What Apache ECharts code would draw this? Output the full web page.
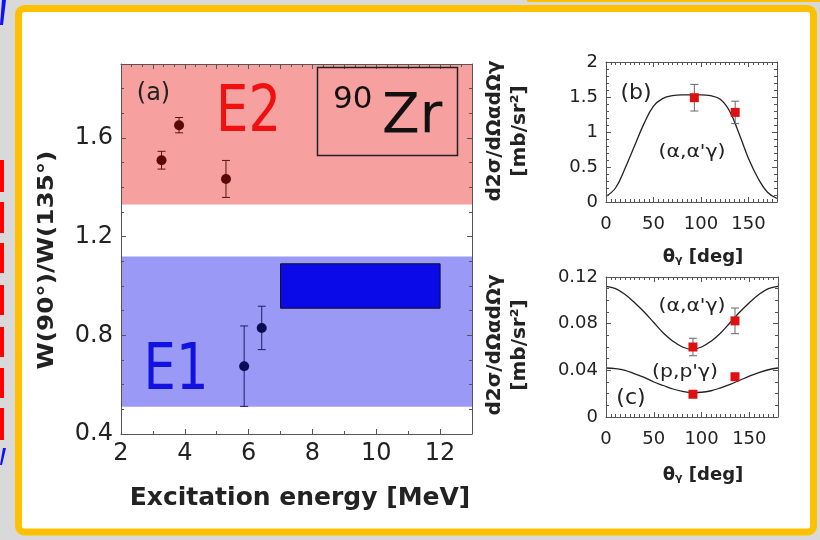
<!DOCTYPE html>
<html><head><meta charset="utf-8">
<script src="https://cdn.jsdelivr.net/npm/echarts@6/dist/echarts.min.js"></script>
<style>html,body{margin:0;padding:0;background:#d9d9d9}#c{width:820px;height:540px}</style>
</head><body><div id="c"></div>
<script>
// ---------- Panel (a) ----------
const xRangeA = [2, 13];
const yRangeA = [0.4, 1.9];
const xTicksA = [2, 4, 6, 8, 10, 12];
const yTicksA = [0.4, 0.8, 1.2, 1.6];
const e2Energy = [3.27, 3.82, 5.29];
const e2Ratio = [1.51, 1.652, 1.434];
const e2Err = [0.036, 0.031, 0.075];
const e1Energy = [5.86, 6.41];
const e1Ratio = [0.675, 0.83];
const e1Err = [0.163, 0.088];
const e2Band = [1.33, 1.9];
const e1Band = [0.51, 1.12];
const gdrBoxX = [7, 12];
const gdrBoxY = [0.91, 1.09];

// ---------- Panel (b) ----------
const xRangeAng = [0, 180];
const xTicksAng = [0, 50, 100, 150];
const yTicksB = [0, 0.5, 1, 1.5, 2];
const angleGrid = [0, 10, 20, 30, 40, 50, 60, 70, 80, 90, 100, 110, 120, 130, 140, 150, 160, 170, 180];
const curveB = [0.08, 0.2, 0.48, 0.8, 1.12, 1.37, 1.48, 1.52, 1.53, 1.53, 1.53, 1.52, 1.47, 1.3, 0.98, 0.62, 0.34, 0.14, 0.05];
const pointAngleB = [93, 136];
const pointValB = [1.49, 1.28];
const pointErrB = [0.19, 0.16];

// ---------- Panel (c) ----------
const yTicksC = [0, 0.04, 0.08, 0.12];
const curveAlphaC = [0.112, 0.110, 0.105, 0.098, 0.090, 0.081, 0.072, 0.065, 0.060, 0.058, 0.060, 0.065, 0.072, 0.081, 0.090, 0.098, 0.105, 0.110, 0.112];
const curveProtonC = [0.042, 0.0415, 0.040, 0.037, 0.034, 0.030, 0.027, 0.024, 0.022, 0.021, 0.0212, 0.0225, 0.025, 0.028, 0.0315, 0.035, 0.038, 0.0405, 0.042];
const pointAngleC = [91, 135];
const alphaValC = [0.06, 0.0824];
const alphaErrC = [0.0075, 0.011];
const protonValC = [0.0195, 0.0345];
const protonErrC = [0.0018, 0.0018];

const FONT = 'DejaVu Sans';
const zip3 = (a, b, c) => a.map((v, i) => [v, b[i], c[i]]);
const zip2 = (a, b) => a.map((v, i) => [v, b[i]]);

function errRender(color, cap, width) {
  return function (params, api) {
    const x = api.value(0), y = api.value(1), e = api.value(2);
    const t = api.coord([x, y + e]), b = api.coord([x, y - e]);
    const st = { stroke: color, lineWidth: width || 1 };
    return { type: 'group', children: [
      { type: 'line', shape: { x1: t[0], y1: t[1], x2: b[0], y2: b[1] }, style: st },
      { type: 'line', shape: { x1: t[0] - cap, y1: t[1], x2: t[0] + cap, y2: t[1] }, style: st },
      { type: 'line', shape: { x1: b[0] - cap, y1: b[1], x2: b[0] + cap, y2: b[1] }, style: st }
    ]};
  };
}

const axLine = { onZero: false, lineStyle: { color: '#555', width: 1 } };
function mkAxis(grid, range, interval, minorN, labels, pos, fs, margin, tickLen) {
  const show = !!labels;
  return {
    type: 'value', gridIndex: grid, position: pos, min: range[0], max: range[1], interval: interval, z: 10,
    axisLine: axLine, splitLine: { show: false },
    axisTick: { inside: true, length: tickLen, lineStyle: { color: '#555' } },
    minorTick: { show: true, splitNumber: minorN, length: tickLen * 0.6, lineStyle: { color: '#555' } },
    axisLabel: show ? { show: true, customValues: labels, fontFamily: FONT, fontSize: fs, color: '#222', margin: margin,
      formatter: v => String(+(+v).toFixed(2)) } : { show: false }
  };
}

function txt(x, y, text, size, opts) {
  opts = opts || {};
  return {
    type: 'text', x: x, y: y, rotation: opts.rot || 0, scaleX: opts.sx || 1, scaleY: opts.sy || 1, z: 50,
    style: { text: text, fontFamily: FONT, fontSize: size, fontWeight: opts.bold ? 'bold' : 'normal',
      fill: opts.color || '#222', textAlign: opts.align || 'center', textVerticalAlign: 'middle',
      lineHeight: opts.lh, rich: opts.rich }
  };
}

const subRich = {
  t: { fontFamily: FONT, fontSize: 18, fontWeight: 'bold', fill: '#222', color: '#222' },
  s: { fontFamily: FONT, fontSize: 11, fontWeight: 'bold', fill: '#222', color: '#222', verticalAlign: 'bottom', padding: [6, 0, 0, 0] }
};

const graphics = [
  // slide frame
  { type: 'rect', z: -10, shape: { x: 18.5, y: 8.5, width: 795, height: 523.5, r: 6 }, style: { fill: '#ffffff', stroke: '#ffc000', lineWidth: 7 } },
  { type: 'rect', z: -10, shape: { x: 527, y: 0, width: 293, height: 2 }, style: { fill: '#ffc000' } },
  // left slide fragments
  { type: 'polygon', z: -10, shape: { points: [[2, 0], [6, 0], [3, 25], [0, 25]] }, style: { fill: '#1010ff' } },
  { type: 'rect', z: -10, shape: { x: 0, y: 160, width: 4, height: 32 }, style: { fill: '#ff0000' } },
  { type: 'rect', z: -10, shape: { x: 0, y: 202, width: 4, height: 31 }, style: { fill: '#ff0000' } },
  { type: 'rect', z: -10, shape: { x: 0, y: 243, width: 4, height: 30 }, style: { fill: '#ff0000' } },
  { type: 'rect', z: -10, shape: { x: 0, y: 285, width: 4, height: 30 }, style: { fill: '#ff0000' } },
  { type: 'rect', z: -10, shape: { x: 0, y: 327, width: 4, height: 30 }, style: { fill: '#ff0000' } },
  { type: 'rect', z: -10, shape: { x: 0, y: 368, width: 4, height: 30 }, style: { fill: '#ff0000' } },
  { type: 'rect', z: -10, shape: { x: 0, y: 408, width: 4, height: 32 }, style: { fill: '#ff0000' } },
  { type: 'polygon', z: -10, shape: { points: [[3, 448], [6, 448], [2, 465], [0, 465]] }, style: { fill: '#1010ff' } },
  // panel (a) annotations
  txt(153.5, 94, '(a)', 24),
  txt(248.5, 114, 'E2', 64, { color: '#f01010', sx: 0.8 }),
  txt(176, 372, 'E1', 64, { color: '#1212e0', sx: 0.8 }),
  { type: 'rect', z: 50, shape: { x: 317.5, y: 67.5, width: 140, height: 88 }, style: { fill: 'none', stroke: '#222', lineWidth: 1.5 } },
  txt(333, 100, '90', 31, { align: 'left', color: '#111' }),
  txt(382, 118, 'Zr', 55, { align: 'left', color: '#111' }),
  txt(47, 260, 'W(90°)/W(135°)', 22, { bold: true, rot: Math.PI / 2, sx: 1.12 }),
  txt(300, 498, 'Excitation energy [MeV]', 25, { bold: true }),
  // panel (b)
  txt(636, 93, '(b)', 22),
  txt(692, 153, '(α,α\'γ)', 17, { sx: 1.2 }),
  txt(507, 131, 'd2σ/dΩαdΩγ\n[mb/sr²]', 20, { bold: true, rot: Math.PI / 2, lh: 25 }),
  txt(703, 257, '{t|θ}{s|γ}{t| [deg]}', 18, { rich: subRich }),
  // panel (c)
  txt(692, 307, '(α,α\'γ)', 17, { sx: 1.2 }),
  txt(685, 373, '(p,p\'γ)', 17, { sx: 1.2 }),
  txt(631, 398, '(c)', 22),
  txt(507, 345, 'd2σ/dΩαdΩγ\n[mb/sr²]', 20, { bold: true, rot: Math.PI / 2, lh: 25 }),
  txt(703, 475, '{t|θ}{s|γ}{t| [deg]}', 18, { rich: subRich })
];

const option = {
  backgroundColor: '#d9d9d9',
  animation: false,
  grid: [
    { left: 121, top: 64, width: 351, height: 370 },
    { left: 606, top: 62, width: 171, height: 140 },
    { left: 606, top: 277, width: 172, height: 140 }
  ],
  xAxis: [
    mkAxis(0, xRangeA, 2, 2, xTicksA, 'bottom', 24, 8, 5),
    mkAxis(0, xRangeA, 1, 3, null, 'top', 24, 8, 5),
    mkAxis(1, xRangeAng, 50, 10, xTicksAng, 'bottom', 18, 13, 5),
    mkAxis(1, xRangeAng, 50, 10, null, 'top', 18, 13, 5),
    mkAxis(2, xRangeAng, 50, 10, xTicksAng, 'bottom', 18, 13, 5),
    mkAxis(2, xRangeAng, 50, 10, null, 'top', 18, 13, 5)
  ],
  yAxis: [
    mkAxis(0, yRangeA, 0.4, 4, yTicksA, 'left', 24, 8, 5),
    mkAxis(0, yRangeA, 0.4, 4, null, 'right', 24, 8, 5),
    mkAxis(1, [0, 2], 0.5, 5, yTicksB, 'left', 18, 8, 5),
    mkAxis(1, [0, 2], 0.5, 5, null, 'right', 18, 8, 5),
    mkAxis(2, [0, 0.12], 0.04, 4, yTicksC, 'left', 18, 8, 5),
    mkAxis(2, [0, 0.12], 0.04, 4, null, 'right', 18, 8, 5)
  ],
  graphic: graphics,
  series: [
    // bands
    { type: 'line', xAxisIndex: 0, yAxisIndex: 0, data: [], z: 1, silent: true,
      markArea: { silent: true, data: [
        [{ xAxis: xRangeA[0], yAxis: e2Band[0], itemStyle: { color: '#f6a0a0' } }, { xAxis: xRangeA[1], yAxis: e2Band[1] }],
        [{ xAxis: xRangeA[0], yAxis: e1Band[0], itemStyle: { color: '#9a9af6' } }, { xAxis: xRangeA[1], yAxis: e1Band[1] }]
      ] } },
    { type: 'line', xAxisIndex: 0, yAxisIndex: 0, data: [], z: 2, silent: true,
      markArea: { silent: true, data: [
        [{ xAxis: gdrBoxX[0], yAxis: gdrBoxY[0], itemStyle: { color: '#0a0ae8', borderColor: '#111', borderWidth: 1 } }, { xAxis: gdrBoxX[1], yAxis: gdrBoxY[1] }]
      ] } },
    // panel a error bars + points
    { type: 'custom', xAxisIndex: 0, yAxisIndex: 0, z: 4, data: zip3(e2Energy, e2Ratio, e2Err), renderItem: errRender('#5a1414', 4) },
    { type: 'custom', xAxisIndex: 0, yAxisIndex: 0, z: 4, data: zip3(e1Energy, e1Ratio, e1Err), renderItem: errRender('#1e1e66', 4) },
    { type: 'scatter', xAxisIndex: 0, yAxisIndex: 0, z: 5, symbolSize: 10, itemStyle: { color: '#5a0808', opacity: 1 }, data: zip2(e2Energy, e2Ratio) },
    { type: 'scatter', xAxisIndex: 0, yAxisIndex: 0, z: 5, symbolSize: 10, itemStyle: { color: '#0c0c55', opacity: 1 }, data: zip2(e1Energy, e1Ratio) },
    // panel b
    { type: 'line', xAxisIndex: 2, yAxisIndex: 2, z: 3, smooth: 0.4, showSymbol: false, lineStyle: { color: '#222', width: 1.3 }, data: zip2(angleGrid, curveB) },
    { type: 'custom', xAxisIndex: 2, yAxisIndex: 2, z: 4, data: zip3(pointAngleB, pointValB, pointErrB), renderItem: errRender('#666', 4) },
    { type: 'scatter', xAxisIndex: 2, yAxisIndex: 2, z: 5, symbol: 'rect', symbolSize: 9, itemStyle: { color: '#dd1111', opacity: 1 }, data: zip2(pointAngleB, pointValB) },
    // panel c
    { type: 'line', xAxisIndex: 4, yAxisIndex: 4, z: 3, smooth: 0.4, showSymbol: false, lineStyle: { color: '#222', width: 1.3 }, data: zip2(angleGrid, curveAlphaC) },
    { type: 'line', xAxisIndex: 4, yAxisIndex: 4, z: 3, smooth: 0.4, showSymbol: false, lineStyle: { color: '#222', width: 1.3 }, data: zip2(angleGrid, curveProtonC) },
    { type: 'custom', xAxisIndex: 4, yAxisIndex: 4, z: 4, data: zip3(pointAngleC, alphaValC, alphaErrC), renderItem: errRender('#666', 4) },
    { type: 'custom', xAxisIndex: 4, yAxisIndex: 4, z: 4, data: zip3(pointAngleC, protonValC, protonErrC), renderItem: errRender('#666', 4) },
    { type: 'scatter', xAxisIndex: 4, yAxisIndex: 4, z: 5, symbol: 'rect', symbolSize: 9, itemStyle: { color: '#dd1111', opacity: 1 }, data: zip2(pointAngleC, alphaValC) },
    { type: 'scatter', xAxisIndex: 4, yAxisIndex: 4, z: 5, symbol: 'rect', symbolSize: 9, itemStyle: { color: '#dd1111', opacity: 1 }, data: zip2(pointAngleC, protonValC) }
  ]
};
const chart = echarts.init(document.getElementById('c'), null, { renderer: 'canvas' });
chart.setOption(option);
</script>
</body></html>
